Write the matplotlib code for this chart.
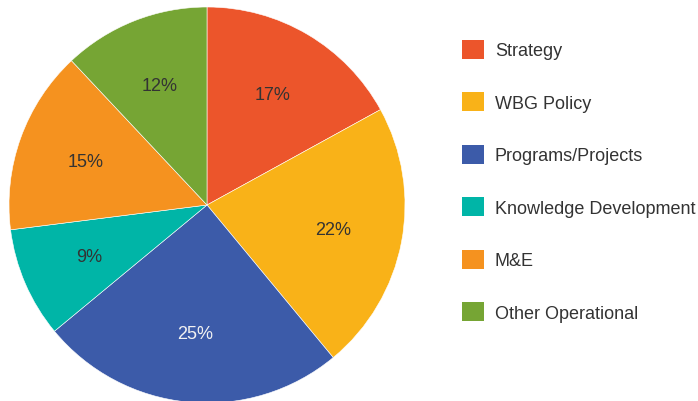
import matplotlib.pyplot as plt
from matplotlib.patches import Patch

plt.rcParams['font.family'] = ['Liberation Sans', 'DejaVu Sans']

categories = ["Strategy", "WBG Policy", "Programs/Projects",
              "Knowledge Development", "M&E", "Other Operational"]
shares = [17, 22, 25, 9, 15, 12]
colors = ["#EC552B", "#F9B218", "#3C5BA9", "#00B5A7", "#F5921F", "#76A534"]
label_colors = ["#333333", "#333333", "#F2F2F2", "#333333", "#333333", "#333333"]

W, H = 698, 402
fig = plt.figure(figsize=(W / 100, H / 100), dpi=100)
cx, cy, r = 207, 206, 198
ax = fig.add_axes([(cx - r) / W, (H - cy - r) / H, 2 * r / W, 2 * r / H])

wedges, texts, autotexts = ax.pie(
    shares, colors=colors, startangle=90, counterclock=False,
    autopct="%d%%", pctdistance=0.65, radius=1,
    wedgeprops=dict(edgecolor="white", linewidth=0.4),
    textprops=dict(fontsize=13))
for t, c in zip(autotexts, label_colors):
    t.set_color(c)
ax.set_xlim(-1, 1)
ax.set_ylim(-1, 1)
ax.set_aspect("equal")

handles = [Patch(facecolor=c, edgecolor="none") for c in colors]
fig.legend(handles, categories, loc="upper left",
           bbox_to_anchor=(462 / W, 1 - 41 / H),
           frameon=False, fontsize=13, labelcolor="#333333",
           handlelength=1.22, handleheight=1.22, handletextpad=0.6,
           labelspacing=1.83, borderaxespad=0, borderpad=0)

fig.savefig("out.png", dpi=100)
